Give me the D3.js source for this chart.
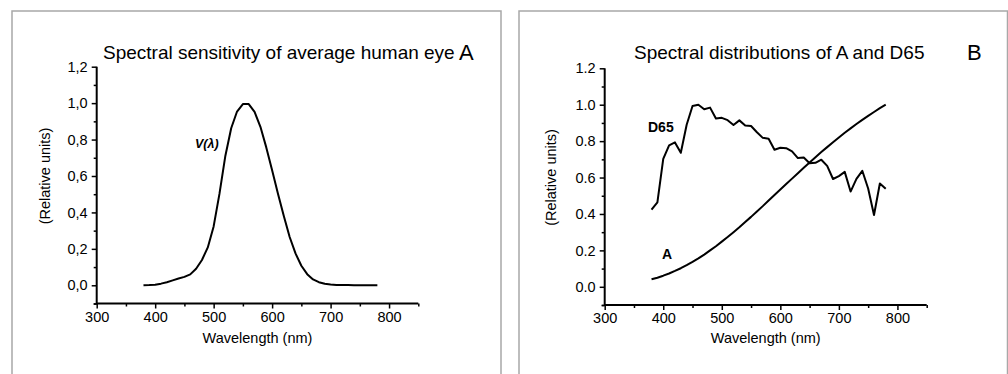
<!DOCTYPE html>
<html>
<head>
<meta charset="utf-8">
<script src="https://cdn.jsdelivr.net/npm/d3@7"></script>
<style>
  html, body { margin: 0; padding: 0; background: #fff; }
  svg { display: block; font-family: Arial, "Liberation Sans", sans-serif; }
</style>
</head>
<body>
<svg id="chart" width="1008" height="374"></svg>
<script>
// ---- Data ----
const wavelengths = [380,390,400,410,420,430,440,450,460,470,480,490,500,510,520,530,540,550,560,570,580,590,600,610,620,630,640,650,660,670,680,690,700,710,720,730,740,750,760,770,780];

// Panel A: spectral sensitivity V(lambda)
const vLambda = [0.000,0.001,0.003,0.009,0.017,0.027,0.037,0.046,0.060,0.091,0.139,0.208,0.323,0.503,0.710,0.862,0.954,0.995,0.995,0.952,0.870,0.757,0.631,0.503,0.381,0.265,0.175,0.107,0.061,0.032,0.017,0.008,0.004,0.002,0.001,0.001,0.000,0.000,0.000,0.000,0.000];

// Panel B: illuminant A and D65 (relative)
const illumA = [0.041,0.050,0.061,0.073,0.087,0.102,0.119,0.137,0.156,0.177,0.200,0.223,0.248,0.273,0.300,0.327,0.356,0.384,0.414,0.443,0.474,0.504,0.534,0.564,0.594,0.624,0.654,0.683,0.712,0.740,0.767,0.794,0.820,0.846,0.870,0.894,0.917,0.939,0.960,0.981,1.000];
const illumD65 = [0.424,0.464,0.702,0.777,0.793,0.736,0.890,0.993,1.000,0.975,0.984,0.924,0.928,0.915,0.889,0.914,0.886,0.883,0.849,0.818,0.813,0.753,0.764,0.761,0.744,0.707,0.710,0.679,0.681,0.698,0.664,0.592,0.608,0.631,0.523,0.593,0.637,0.540,0.394,0.567,0.538];

const xTicks = [300,400,500,600,700,800];
const yTicks = [0.0,0.2,0.4,0.6,0.8,1.0,1.2];
const titles = ["Spectral sensitivity of average human eye", "Spectral distributions of A and D65"];
const panelLetters = ["A", "B"];
const xLabel = "Wavelength (nm)";
const yLabel = "(Relative units)";

// ---- Drawing ----
const svg = d3.select("#chart");

function drawPanel(cfg) {
  const g = svg.append("g");
  // frame (open at bottom)
  g.append("path")
    .attr("d", `M${cfg.frame[0]},380 L${cfg.frame[0]},${cfg.frame[2]} L${cfg.frame[1]},${cfg.frame[2]} L${cfg.frame[1]},380`)
    .attr("fill", "none").attr("stroke", "#a8a8a8").attr("stroke-width", 1.5);

  const x = d3.scaleLinear().domain([300, 850]).range([cfg.x0, cfg.x1]);
  const y = d3.scaleLinear().domain([-0.1, 1.2]).range([cfg.yBot, cfg.yTop]);

  // minor ticks
  const xMinor = d3.range(350, 850, 100);
  const yMinor = d3.range(-0.1, 1.25, 0.1).filter(v => Math.abs(Math.round(v*10) % 2) === 1);

  const xAxis = g.append("g").attr("transform", `translate(0,${cfg.yBot})`)
    .call(d3.axisBottom(x).tickValues(xTicks).tickSize(5).tickPadding(3).tickFormat(d3.format("d")));
  const xAxisMinor = g.append("g").attr("transform", `translate(0,${cfg.yBot})`)
    .call(d3.axisBottom(x).tickValues(xMinor.concat([850])).tickSize(3).tickFormat(""));
  const yAxis = g.append("g").attr("transform", `translate(${cfg.x0},0)`)
    .call(d3.axisLeft(y).tickValues(yTicks).tickSize(5).tickPadding(4)
      .tickFormat(d => cfg.comma ? d3.format(".1f")(d).replace(".", ",") : d3.format(".1f")(d)));
  const yAxisMinor = g.append("g").attr("transform", `translate(${cfg.x0},0)`)
    .call(d3.axisLeft(y).tickValues(yMinor.concat([-0.1])).tickSize(3).tickFormat(""));

  [xAxis, xAxisMinor, yAxis, yAxisMinor].forEach(a => {
    a.select(".domain").remove();
    a.selectAll(".tick line").attr("stroke", "#000").attr("stroke-width", 1.5);
    a.selectAll(".tick text").attr("font-size", 14.5).attr("font-family", "Arial, 'Liberation Sans', sans-serif").attr("fill", "#000");
  });
  // axis lines
  g.append("line").attr("x1", cfg.x0).attr("x2", x(850)).attr("y1", cfg.yBot).attr("y2", cfg.yBot)
    .attr("stroke", "#000").attr("stroke-width", 2);
  g.append("line").attr("x1", cfg.x0).attr("x2", cfg.x0).attr("y1", cfg.yBot + 1).attr("y2", cfg.yTop)
    .attr("stroke", "#000").attr("stroke-width", 2);

  // curves
  const line = d3.line().x((d, i) => x(wavelengths[i])).y(d => y(d));
  cfg.series.forEach(s => {
    g.append("path").datum(s).attr("d", line)
      .attr("fill", "none").attr("stroke", "#000").attr("stroke-width", 2).attr("stroke-linejoin", "round");
  });

  // titles
  g.append("text").attr("x", cfg.titleX).attr("y", 59).attr("font-size", 19).attr("fill", "#000").text(cfg.title);
  g.append("text").attr("x", cfg.letterX).attr("y", 60).attr("font-size", 22).attr("fill", "#000").text(cfg.letter);

  // axis labels
  g.append("text").attr("x", (cfg.x0 + x(850)) / 2).attr("y", 343).attr("text-anchor", "middle")
    .attr("font-size", 14.5).attr("fill", "#000").text(xLabel);
  g.append("text").attr("transform", `translate(${cfg.yLabelX},${cfg.yLabelY}) rotate(-90)`)
    .attr("text-anchor", "middle").attr("font-size", 14.5).attr("fill", "#000").text(yLabel);

  cfg.labels.forEach(l => {
    g.append("text").attr("x", l.x).attr("y", l.y).attr("font-size", l.size)
      .attr("font-weight", "bold").attr("font-style", l.italic ? "italic" : "normal")
      .attr("fill", "#000").text(l.text);
  });
}

drawPanel({
  frame: [12, 501, 11], x0: 96.7, x1: 418.3, yTop: 66.7, yBot: 303.5,
  comma: true, series: [vLambda], title: titles[0], titleX: 103, letter: panelLetters[0], letterX: 459,
  yLabelX: 50, yLabelY: 176,
  labels: [{ text: "V(λ)", x: 195, y: 148, size: 12.5, italic: true }]
});

drawPanel({
  frame: [519, 1007.5, 11], x0: 604.7, x1: 926.7, yTop: 68.3, yBot: 305,
  comma: false, series: [illumD65, illumA], title: titles[1], titleX: 634, letter: panelLetters[1], letterX: 967,
  yLabelX: 555.5, yLabelY: 177.5,
  labels: [{ text: "D65", x: 648, y: 132, size: 14 }, { text: "A", x: 662, y: 259, size: 14 }]
});
</script>
</body>
</html>
